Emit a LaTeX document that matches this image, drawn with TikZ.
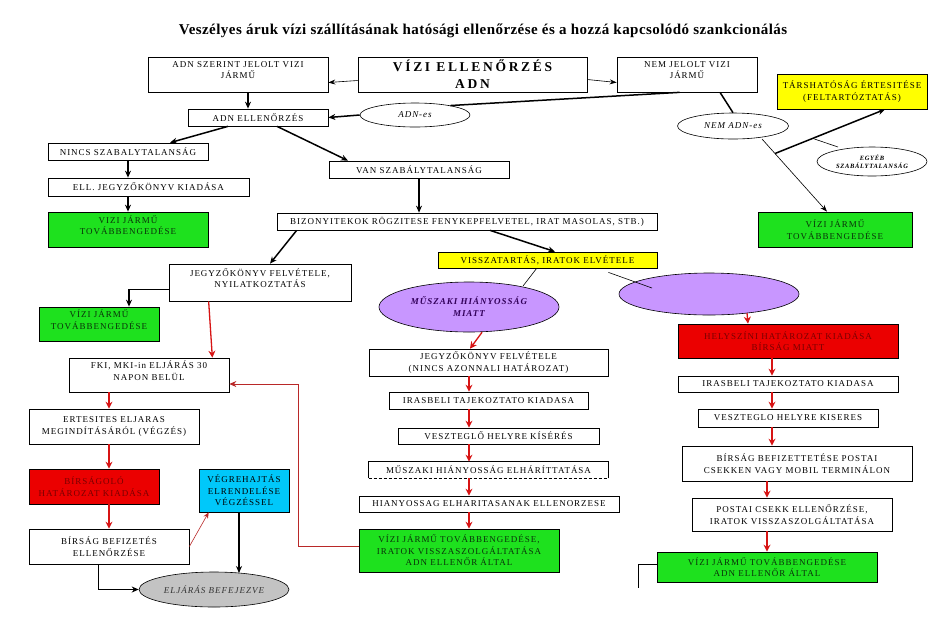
\documentclass[tikz,border=0pt]{standalone}
\usepackage{fontspec}
\setmainfont{Liberation Serif}
\newfontfamily\boxf[LetterSpace=11]{Liberation Serif}
\newfontfamily\vizif[LetterSpace=20]{Liberation Serif}
\newfontfamily\titlef[LetterSpace=3]{Liberation Serif}
\usetikzlibrary{shapes.geometric,arrows.meta,calc}
\definecolor{gbox}{RGB}{30,225,30}
\definecolor{gtext}{RGB}{10,50,10}
\definecolor{ybox}{RGB}{255,255,0}
\definecolor{rbox}{RGB}{235,0,0}
\definecolor{rtext}{RGB}{120,0,0}
\definecolor{cbox}{RGB}{0,200,250}
\definecolor{pell}{RGB}{200,150,255}
\definecolor{ptext}{RGB}{50,0,90}
\definecolor{gell}{RGB}{195,195,195}
\definecolor{rarrow}{RGB}{215,20,20}
\definecolor{rline}{RGB}{185,40,40}
\tikzset{
  box/.style={draw=black, line width=0.7pt, fill=white, align=center, inner sep=1pt,
    font=\boxf\fontsize{9}{11.5}\selectfont},
  tup/.style={text depth=9pt},
  gbx/.style={box, fill=gbox, text=gtext},
  rbx/.style={box, fill=rbox, text=rtext},
  ell/.style={ellipse, draw=black, line width=0.6pt, fill=white, inner sep=0pt, align=center,
    font=\boxf\itshape\fontsize{9}{10}\selectfont},
  thk/.style={draw=black, line width=1.5pt, -{Stealth[length=7pt,width=6pt]}},
  thkl/.style={draw=black, line width=1.5pt},
  thn/.style={draw=black, line width=0.6pt, -{Stealth[length=7pt,width=5pt]}},
  thnl/.style={draw=black, line width=0.6pt},
  medarr/.style={draw=black, line width=1pt, -{Stealth[length=7pt,width=6pt]}},
  rarr/.style={draw=rarrow, line width=1.3pt, -{Stealth[length=7pt,width=7pt]}},
  rthin/.style={draw=rline, line width=0.6pt, -{Stealth[length=6pt,width=5pt]}},
  rthinl/.style={draw=rline, line width=0.8pt, -{Stealth[length=7pt,width=6pt]}},
}
\begin{document}
\begin{tikzpicture}[x=1pt,y=-1pt]
\useasboundingbox (0,0) rectangle (941,630);
\fill[white] (0,0) rectangle (941,630);
\node[anchor=base, inner sep=0, font=\titlef\bfseries\fontsize{15}{17}\selectfont] (title) at (483,34.5)
  {Veszélyes áruk vízi szállításának hatósági ellenőrzése és a hozzá kapcsolódó szankcionálás};
% top row
\node[box, tup, minimum width=180, minimum height=35] (adnsz) at (238,74.5) {ADN SZERINT JELOLT VIZI\\JÁRMŰ};
\node[box, minimum width=229, minimum height=35, font=\vizif\bfseries\fontsize{13.5}{17}\selectfont] (vizi) at (472.5,74.5) {VÍZI ELLENŐRZÉS\\ADN};
\node[box, tup, minimum width=140, minimum height=35] (nemj) at (687,74.5) {NEM JELOLT VIZI\\JÁRMŰ};
\node[box, minimum width=140, minimum height=17] (adnell) at (258,117.5) {ADN ELLENŐRZÉS};
\node[ell, minimum width=110, minimum height=24] (adnes) at (415,115) {ADN-es};
\node[box, minimum width=160, minimum height=17] (nincs) at (128,151.5) {NINCS SZABALYTALANSÁG};
\node[box, minimum width=201, minimum height=18] (elljk) at (148.5,187) {ELL. JEGYZŐKÖNYV KIADÁSA};
\node[gbx, tup, minimum width=160, minimum height=35] (green1) at (128,229.5) {VIZI JÁRMŰ\\TOVÁBBENGEDÉSE};
\node[box, minimum width=180, minimum height=17] (van) at (419,169.5) {VAN SZABÁLYTALANSÁG};
\node[box, minimum width=380, minimum height=17] (biz) at (467,221.5) {BIZONYITEKOK RÖGZITESE FENYKEPFELVETEL, IRAT MASOLAS, STB.)};
\node[box, fill=ybox, minimum width=150, minimum height=35] (tars) at (852,91.5) {TÁRSHATÓSÁG ÉRTESITÉSE\\(FELTARTÓZTATÁS)};
\node[ell, minimum width=111, minimum height=26] (nemadn) at (733,126) {NEM ADN-es};
\node[ell, minimum width=110, minimum height=29, font=\boxf\bfseries\itshape\fontsize{6.5}{8.5}\selectfont] (egyeb) at (872,161.5) {EGYÉB\\SZABÁLYTALANSÁG};
\node[gbx, minimum width=154, minimum height=35] (green2) at (835,229.5) {VÍZI JÁRMŰ\\TOVÁBBENGEDÉSE};
\node[box, fill=ybox, minimum width=219, minimum height=16] (vissza) at (547.5,260) {VISSZATARTÁS, IRATOK ELVÉTELE};
\node[ell, fill=pell, text=ptext, minimum width=180, minimum height=50, font=\boxf\bfseries\itshape\fontsize{9}{12}\selectfont] (muszell) at (469,307) {MŰSZAKI HIÁNYOSSÁG\\MIATT};
\node[ell, fill=pell, minimum width=180, minimum height=42] (rightell) at (709,294) {};
% left column
\node[box, tup, minimum width=182, minimum height=37] (jegyz1) at (260,282.5) {JEGYZŐKÖNYV FELVÉTELE,\\NYILATKOZTATÁS};
\node[gbx, tup, minimum width=120, minimum height=34] (green3) at (99,324) {VÍZI JÁRMŰ\\TOVÁBBENGEDÉSE};
\node[box, tup, minimum width=160, minimum height=34] (fki) at (149,375) {FKI, MKI-in ELJÁRÁS 30\\NAPON BELÜL};
\node[box, minimum width=170, minimum height=35] (ertes) at (114,426.5) {ERTESITES ELJARAS\\MEGINDÍTÁSÁRÓL (VÉGZÉS)};
\node[rbx, minimum width=130, minimum height=35] (birsag) at (94,486.5) {BÍRSÁGOLÓ\\HATÁROZAT KIADÁSA};
\node[box, fill=cbox, minimum width=90, minimum height=43] (vegreh) at (244,490.5) {VÉGREHAJTÁS\\ELRENDELÉSE\\VÉGZÉSSEL};
\node[box, minimum width=160, minimum height=35] (befiz) at (109,546.5) {BÍRSÁG BEFIZETÉS\\ELLENŐRZÉSE};
\node[ell, fill=gell, text=black!80, minimum width=150, minimum height=35] (eljaras) at (214,589.5) {ELJÁRÁS BEFEJEZVE};
% middle column
\node[box, minimum width=239, minimum height=27] (jegyz2) at (488.5,362.5) {JEGYZŐKÖNYV FELVÉTELE\\(NINCS AZONNALI HATÁROZAT)};
\node[box, minimum width=199, minimum height=17] (iras1) at (488.5,400.5) {IRASBELI TAJEKOZTATO KIADASA};
\node[box, minimum width=201, minimum height=16] (veszt1) at (498.5,436) {VESZTEGLŐ HELYRE KÍSÉRÉS};
\node[box, draw=none, minimum width=239, minimum height=16] (musz2) at (488.5,470) {MŰSZAKI HIÁNYOSSÁG ELHÁRÍTTATÁSA};
\draw[line width=0.7pt] (musz2.south east) -- (musz2.north east) -- (musz2.north west) -- (musz2.south west);
\draw[line width=0.9pt, dash pattern=on 3pt off 2pt] (musz2.south west) -- (musz2.south east);
\node[box, minimum width=260, minimum height=16] (hiany) at (489,504) {HIANYOSSAG ELHARITASANAK ELLENORZESE};
\node[gbx, minimum width=200, minimum height=43] (green4) at (459,550.5) {VÍZI JÁRMŰ TOVÁBBENGEDÉSE,\\IRATOK VISSZASZOLGÁLTATÁSA\\ADN ELLENŐR ÁLTAL};
% right column
\node[rbx, minimum width=220, minimum height=34] (helysz) at (788,341) {HELYSZÍNI HATÁROZAT KIADÁSA\\BÍRSÁG MIATT};
\node[box, minimum width=220, minimum height=16] (iras2) at (788,384) {IRASBELI TAJEKOZTATO KIADASA};
\node[box, minimum width=180, minimum height=18] (veszt2) at (788,418) {VESZTEGLO HELYRE KISERES};
\node[box, minimum width=230, minimum height=35] (birsbef) at (797,463.5) {BÍRSÁG BEFIZETTETÉSE POSTAI\\CSEKKEN VAGY MOBIL TERMINÁLON};
\node[box, minimum width=200, minimum height=33] (postai) at (792,514.5) {POSTAI CSEKK ELLENŐRZÉSE,\\IRATOK VISSZASZOLGÁLTATÁSA};
\node[gbx, minimum width=220, minimum height=30] (green5) at (767,567) {VÍZI JÁRMŰ TOVÁBBENGEDÉSE\\ADN ELLENŐR ÁLTAL};
% connectors top
\draw[thn] ($(vizi.west)+(0,6)$) -- ($(adnsz.east)+(0,8)$);
\draw[thn] ($(vizi.east)+(0,5)$) -- ($(nemj.west)+(0,8)$);
\draw[thk] ($(adnsz.south)+(10,0)$) -- ($(adnell.north)+(-10,0)$);
\draw[thkl] ($(nemj.south west)+(63,0)$) -- (adnes.15);
\draw[thk] (adnes.west) -- (adnell.east);
\draw[thk] ($(adnell.south)+(-30,0)$) -- ($(nincs.north)+(42,0)$);
\draw[thk] ($(adnell.south)+(19,0)$) -- ($(van.north)+(-71,0)$);
\draw[thk] (nincs.south) -- (nincs.south |- elljk.north);
\draw[thk] (green1.north |- elljk.south) -- (green1.north);
\draw[thk] (van.south) -- (van.south |- biz.north);
\draw[thk] ($(biz.south west)+(20,0)$) -- ($(jegyz1.north)+(10,0)$);
\draw[thk] ($(biz.south)+(23,0)$) -- ($(vissza.north)+(7.5,0)$);
\draw[thnl] ($(vissza.south west)+(99,0)$) -- ($(muszell.center)+(54,-21)$);
\draw[thnl] ($(vissza.south east)+(-49,4)$) -- ($(rightell.center)+(-57,-6)$);
% right top
\draw[thkl] ($(nemj.south)+(33,0)$) -- (nemadn.north);
\coordinate (br) at (775,153.5);
\draw[thn] ($(nemadn.center)+(29,13)$) -- ($(green2.north)+(-8,0)$);
\draw[thk] (br) -- ($(tars.south)+(33,0)$);
\coordinate (eb) at (813,138.5);
\draw[thnl] (eb) -- ($(egyeb.center)+(-34,-14.5)$);
% left
\draw[thk] ($(jegyz1.west)+(0,7)$) -| ($(green3.north)+(30,0)$);
\draw[rarr] ($(jegyz1.south west)+(40,0)$) -- ($(fki.north east)+(-17,0)$);
\coordinate (lx) at (109,0);
\draw[rarr] (lx |- fki.south) -- (lx |- ertes.north);
\draw[rarr] (lx |- ertes.south) -- (lx |- birsag.north);
\draw[rarr] (lx |- birsag.south) -- (lx |- befiz.north);
\draw[rthin] (befiz.east) -- ($(vegreh.south west)+(10,0)$);
\draw[thk] ($(vegreh.south)+(-5,0)$) -- ($(eljaras.center)+(25,-16.5)$);
\draw[medarr] ($(befiz.south west)+(70,0)$) |- (eljaras.west);
\draw[rthinl] ($(green4.west)+(0,-4)$) -- ++(-60,0) |- ($(fki.east)+(0,9)$);
% middle chain
\draw[rarr] ($(muszell.south)+(13,0)$) -- ($(jegyz2.north)+(-18.5,0)$);
\coordinate (mx) at (469,0);
\draw[rarr] (mx |- jegyz2.south) -- (mx |- iras1.north);
\draw[rarr] (mx |- iras1.south) -- (mx |- veszt1.north);
\draw[rarr] (mx |- veszt1.south) -- (mx |- musz2.north);
\draw[rarr] (mx |- musz2.south) -- (mx |- hiany.north);
\draw[rarr] (mx |- hiany.south) -- (mx |- green4.north);
% right chain
\draw[rarr] ($(rightell.center)+(38,19)$) -- ($(helysz.north)+(-40,0)$);
\coordinate (rx) at (772,0);
\draw[rarr] (rx |- helysz.south) -- (rx |- iras2.north);
\draw[rarr] (rx |- iras2.south) -- (rx |- veszt2.north);
\draw[rarr] (rx |- veszt2.south) -- (rx |- birsbef.north);
\coordinate (rx2) at (767,0);
\draw[rarr] (rx2 |- birsbef.south) -- (rx2 |- postai.north);
\draw[rarr] (rx2 |- postai.south) -- (rx2 |- green5.north);
\draw[thnl] ($(green5.west)+(0,-3)$) -- ++(-18,0) -- ++(0,24) coordinate (gend);
\end{tikzpicture}
\end{document}
